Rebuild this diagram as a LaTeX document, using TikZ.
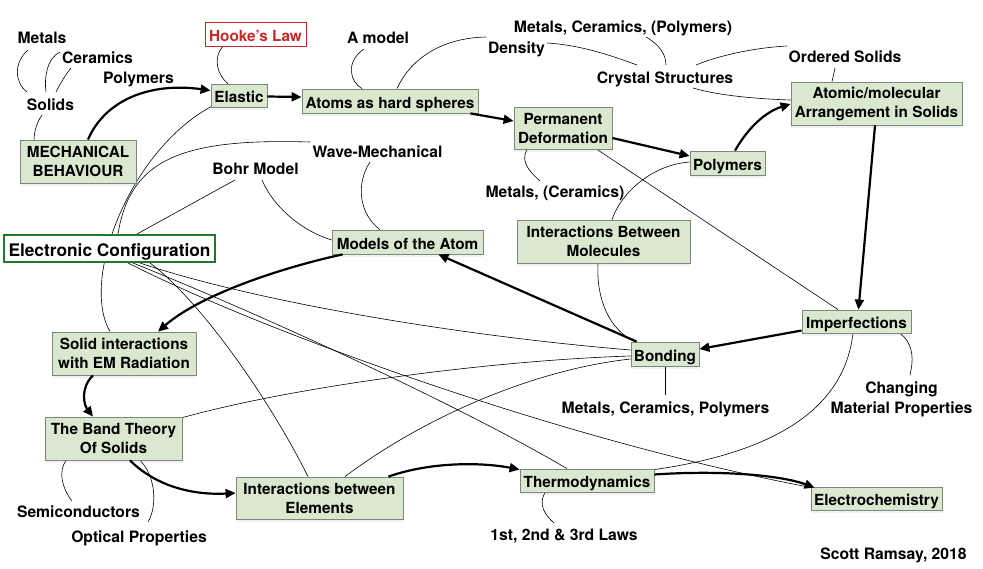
\documentclass[tikz,border=0pt]{standalone}
\usepackage{fontspec}
\setmainfont{TeX Gyre Heros}
\usetikzlibrary{arrows.meta,backgrounds,shadows,calc}
\definecolor{boxfill}{RGB}{218,232,208}
\definecolor{boxline}{RGB}{125,135,125}
\definecolor{hookered}{RGB}{200,40,40}
\definecolor{ecgreen}{RGB}{35,120,45}
\begin{document}
\begin{tikzpicture}[x=1pt,y=-1pt,
  plain/.style={draw=boxline, fill=boxfill, line width=0.8pt, inner sep=0pt, align=center, font=\bfseries\fontsize{15.3}{19}\selectfont},
  box/.style={plain, drop shadow={shadow xshift=0pt, shadow yshift=-3pt, opacity=0.10}},
  one/.style={text height=14pt, text depth=0pt},
  lbl/.style={inner sep=0pt, align=center, font=\bfseries\fontsize{15.7}{20}\selectfont, anchor=base},
  link/.style={line width=0.6pt},
  arr/.style={line width=2.2pt, -{Triangle[length=10pt,width=9pt]}},
]
\useasboundingbox (0,0) rectangle (983,568);

% boxes
\node[plain, one, draw=hookered, fill=white, text=hookered, minimum width=101, minimum height=24] (hooke) at (255.5,34) {Hooke's Law};
\node[box, minimum width=116, minimum height=43] (mech) at (78,161.5) {MECHANICAL\\BEHAVIOUR};
\node[box, one, minimum width=56, minimum height=23] (elastic) at (239,95.5) {Elastic};
\node[box, one, minimum width=176, minimum height=24] (atoms) at (390,101) {Atoms as hard spheres};
\node[box, minimum width=171, minimum height=43] (atomic) at (876.5,103.5) {Atomic/molecular\\Arrangement in Solids};
\node[box, minimum width=98, minimum height=42] (permdef) at (563,128) {Permanent\\Deformation};
\node[box, one, minimum width=75, minimum height=24] (polybox) at (727.5,163) {Polymers};
\node[plain, draw=ecgreen, fill=white, line width=2pt, font=\bfseries\fontsize{17.3}{20}\selectfont, text height=15pt, text depth=0pt, minimum width=211, minimum height=27] (ec) at (109.5,248.5) {Electronic Configuration};
\node[box, one, minimum width=151, minimum height=24] (models) at (407.5,242) {Models of the Atom};
\node[box, minimum width=173, minimum height=43] (intmol) at (603.5,241.5) {Interactions Between\\Molecules};
\node[box, one, minimum width=109, minimum height=23] (imperf) at (856.5,321.5) {Imperfections};
\node[box, one, minimum width=68, minimum height=24] (bonding) at (665,354) {Bonding};
\node[box, minimum width=144, minimum height=43] (solid) at (124,353.5) {Solid interactions\\with EM Radiation};
\node[box, minimum width=137, minimum height=43] (band) at (113.5,438.5) {The Band Theory\\Of Solids};
\node[box, minimum width=167, minimum height=42] (intel) at (319.5,498) {Interactions between\\Elements};
\node[box, one, minimum width=134, minimum height=23] (thermo) at (587,480.5) {Thermodynamics};
\node[box, one, minimum width=131, minimum height=23] (electro) at (876.5,498.5) {Electrochemistry};

% labels
\node[lbl] (metals) at (42,43) {Metals};
\node[lbl] (ceramics) at (97.5,63) {Ceramics};
\node[lbl] (polymersl) at (138.5,83) {Polymers};
\node[lbl] (solids) at (50.5,110) {Solids};
\node[lbl] (amodel) at (378,43) {A model};
\node[lbl] (wave) at (377.5,157) {Wave-Mechanical};
\node[lbl] (bohr) at (255.5,174) {Bohr Model};
\node[lbl] (density) at (516.5,53) {Density};
\node[lbl] (mcpol) at (623,32) {Metals, Ceramics, (Polymers)};
\node[lbl] (crystal) at (665,83) {Crystal Structures};
\node[lbl] (ordered) at (845,62) {Ordered Solids};
\node[lbl] (metcer) at (555,197) {Metals, (Ceramics)};
\node[lbl] (mcp) at (665.5,413) {Metals, Ceramics, Polymers};
\node[lbl, anchor=center] (changing) at (901.5,399) {Changing\\Material Properties};
\node[lbl] (laws) at (564,540) {1st, 2nd \& 3rd Laws};
\node[lbl] (scott) at (893.5,559) {Scott Ramsay, 2018};
\node[lbl] (semi) at (78.5,517) {Semiconductors};
\node[lbl] (optical) at (139,542) {Optical Properties};

\begin{scope}[on background layer]
% thin links
\draw[link] ($(metals.base)+(-14,7)$) .. controls (14,62) and (14,82) .. ($(solids.base)+(-23.5,-18)$);
\draw[link] ($(ceramics.base)+(-37.5,-11)$) .. controls (47,58) and (44,78) .. ($(solids.base)+(-4.5,-18)$);
\draw[link] ($(ceramics.base)+(-26.5,5)$) .. controls (66,74) and (60,84) .. ($(solids.base)+(5.5,-18)$);
\draw[link] ($(solids.base)+(-8.5,5)$) .. controls (37,122) and (34,132) .. ($(mech.north)+(-44,0)$);
\draw[link] ($(hooke.south)+(-32.5,0)$) .. controls (212,58) and (218,76) .. ($(elastic.north)+(-11,0)$);
\draw[link] ($(amodel.base)+(-14,6)$) .. controls (345,62) and (350,82) .. ($(atoms.north)+(-28,0)$);
\draw[link] ($(atoms.north)+(7,0)$) .. controls (410,60) and (440,38) .. ($(density.base)+(-30.5,-16)$);
\draw[link] ($(density.base)+(30.5,-10)$) .. controls (580,45) and (610,55) .. ($(crystal.base)+(-28,-18)$);
\draw[link] ($(mcpol.base)+(23,5)$) .. controls (660,45) and (666,55) .. ($(crystal.base)+(1,-18)$);
\draw[link] ($(ordered.base)+(-58,-16)$) .. controls (750,48) and (715,57) .. ($(crystal.base)+(31,-18)$);
\draw[link] ($(crystal.base)+(28,5)$) .. controls (720,96) and (760,99) .. ($(atomic.west)+(0,-3.5)$);
\draw[link] ($(ordered.base)+(-10,6)$) -- ($(atomic.north)+(-44.5,0)$);
\draw[link] ($(elastic.south west)+(1,-1)$) .. controls (130,150) and (80,280) .. ($(solid.north)+(-14,0)$);
\draw[link] ($(wave.base)+(-67.5,-15)$) .. controls (180,138) and (130,160) .. ($(ec.north)+(8.5,0)$);
\draw[link] ($(bohr.base)+(-20.5,6)$) -- ($(ec.north)+(27.5,0)$);
\draw[link] ($(bohr.base)+(6.5,6)$) .. controls (275,210) and (305,232) .. ($(models.west)+(0,-2)$);
\draw[link] ($(wave.base)+(-7.5,5)$) .. controls (355,185) and (360,215) .. ($(models.north)+(-27.5,0)$);
\draw[link] ($(intmol.south)+(-5.5,0)$) .. controls (596,300) and (610,330) .. ($(bonding.north west)+(4,0)$);
\draw[link] ($(polybox.west)+(0,-1)$) .. controls (650,165) and (620,195) .. ($(intmol.north)+(8.5,0)$);
\draw[link] ($(permdef.south)+(-36,0)$) .. controls (520,162) and (530,172) .. ($(metcer.base)+(-15,-16)$);
\draw[link] ($(permdef.south)+(34,0)$) -- ($(imperf.north)+(-18.5,0)$);
\draw[link] ($(imperf.south)+(-3.5,0)$) .. controls (845,400) and (790,450) .. ($(thermo.north east)+(0,1)$);
\draw[link] ($(imperf.south)+(43.5,0)$) .. controls (915,345) and (913,362) .. ($(changing.north)+(8.5,-6)$);
\draw[link] (bonding.south) -- ($(mcp.base)+(-0.5,-18)$);
\draw[link] ($(thermo.south)+(-42,0)$) .. controls (538,505) and (545,515) .. ($(laws.base)+(-10,-17)$);
\draw[link] ($(band.south)+(-47.5,0)$) .. controls (58,472) and (62,488) .. ($(semi.base)+(-6.5,-16)$);
\draw[link] ($(band.south)+(26.5,0)$) .. controls (155,475) and (158,505) .. ($(optical.base)+(9,-20)$);
\draw[link] ($(ec.south)+(40.5,0)$) .. controls (200,300) and (270,400) .. ($(intel.north)+(-11.5,0)$);
\draw[link] ($(ec.south)+(30.5,0)$) .. controls (250,300) and (450,335) .. ($(bonding.west)+(0,-4)$);
\draw[link] ($(ec.south)+(23.5,0)$) .. controls (250,310) and (450,400) .. ($(thermo.north)+(-20,0)$);
\draw[link] ($(ec.south)+(18.5,0)$) .. controls (260,330) and (560,440) .. ($(electro.north west)+(1,1)$);
\draw[link] ($(band.north east)+(0,1)$) .. controls (300,385) and (500,360) .. ($(bonding.west)+(0,2)$);
\draw[link] ($(intel.north)+(25.5,0)$) .. controls (420,420) and (530,370) .. ($(bonding.west)+(0,5)$);
\end{scope}

% thick arrows
\draw[arr] ($(mech.north)+(10,0)$) .. controls (105,100) and (150,82) .. ($(elastic.west)+(0,-5)$);
\draw[arr] ($(elastic.east)+(0,1)$) -- ($(atoms.west)+(0,-4)$);
\draw[arr] ($(atoms.south east)+(-8,0)$) -- ($(permdef.west)+(0,-7)$);
\draw[arr] ($(permdef.east)+(0,10)$) -- ($(polybox.west)+(0,-7)$);
\draw[arr] ($(polybox.north)+(7.5,0)$) .. controls (748,128) and (765,112) .. ($(atomic.west)+(0,0.5)$);
\draw[arr] ($(atomic.south)+(-1.5,0)$) -- ($(imperf.north)+(2,0)$);
\draw[arr] ($(imperf.west)+(0,9)$) -- ($(bonding.east)+(0,-5)$);
\draw[arr] ($(bonding.north west)+(6,0)$) -- ($(models.south east)+(-45,0)$);
\draw[arr] ($(models.south west)+(11,0)$) .. controls (280,268) and (200,295) .. ($(solid.north)+(34,0)$);
\draw[arr] ($(solid.south)+(-31,0)$) .. controls (80,388) and (84,405) .. ($(band.north)+(-20.5,0)$);
\draw[arr] ($(band.south)+(16.5,0)$) .. controls (160,490) and (200,495) .. ($(intel.west)+(0,-5)$);
\draw[arr] ($(intel.north east)+(-15,0)$) .. controls (430,462) and (480,462) .. ($(thermo.west)+(0,-11)$);
\draw[arr] ($(thermo.east)+(0,-6)$) .. controls (720,470) and (780,475) .. ($(electro.north west)+(4,1)$);
\end{tikzpicture}
\end{document}
